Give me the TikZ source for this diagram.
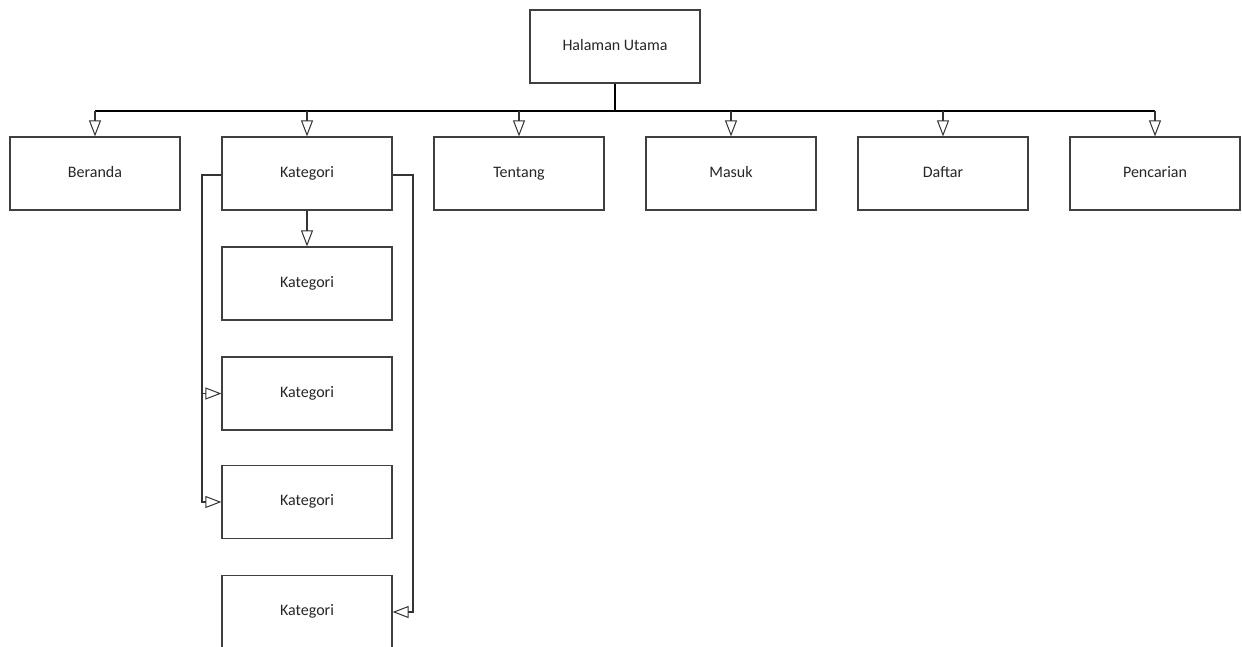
\documentclass[tikz,border=0pt]{standalone}
\usepackage{fontspec}
\setmainfont{Carlito}
\usetikzlibrary{arrows.meta}
\begin{document}
\begin{tikzpicture}[x=1pt,y=-1pt,
  page/.style={draw=black!75, line width=1.2pt, fill=white, minimum width=170pt, minimum height=73pt, inner sep=0pt, text height=11pt, text depth=3.5pt, font=\fontsize{16}{18}\selectfont, text=black!85},
  link/.style={draw=black!80, line width=1.1pt, -{Triangle[open, length=16pt, width=12pt, line width=1pt]}},
  bus/.style={draw=black, line width=1.6pt}]
\useasboundingbox (0,0) rectangle (1242,646);
\fill[white] (0,0) rectangle (1242,646);

% root page
\node[page] (home) at (615,46.5) {Halaman Utama};

% first-level pages
\node[page] (beranda) at (95,173.5) {Beranda};
\node[page] (kat) at (307,173.5) {Kategori};
\node[page] (tentang) at (519,173.5) {Tentang};
\node[page] (masuk) at (731,173.5) {Masuk};
\node[page] (daftar) at (943,173.5) {Daftar};
\node[page] (cari) at (1155,173.5) {Pencarian};

% category sub-pages
\node[page] (kat2) at (307,283.5) {Kategori};
\node[page] (kat3) at (307,393.5) {Kategori};
\node[page] (kat4) at (307,502) {Kategori};
\node[page] (kat5) at (307,612) {Kategori};

% main bus
\coordinate (hub) at (615,111);
\draw[bus] (home.south) -- (hub);
\draw[bus] (beranda.north |- hub) -- (cari.north |- hub);
\foreach \n in {beranda,kat,tentang,masuk,daftar,cari}
  \draw[link] (\n.north |- hub) -- (\n.north);

% category branches
\draw[link] (kat.south) -- (kat2.north);
\coordinate (lft) at (202,175);
\coordinate (rgt) at (413,175);
\draw[link] (kat.west |- lft) -- (lft) |- (kat3.west);
\draw[link] (lft) |- (kat4.west);
\draw[link] (kat.east |- rgt) -- (rgt) |- (kat5.east);
\end{tikzpicture}
\end{document}
